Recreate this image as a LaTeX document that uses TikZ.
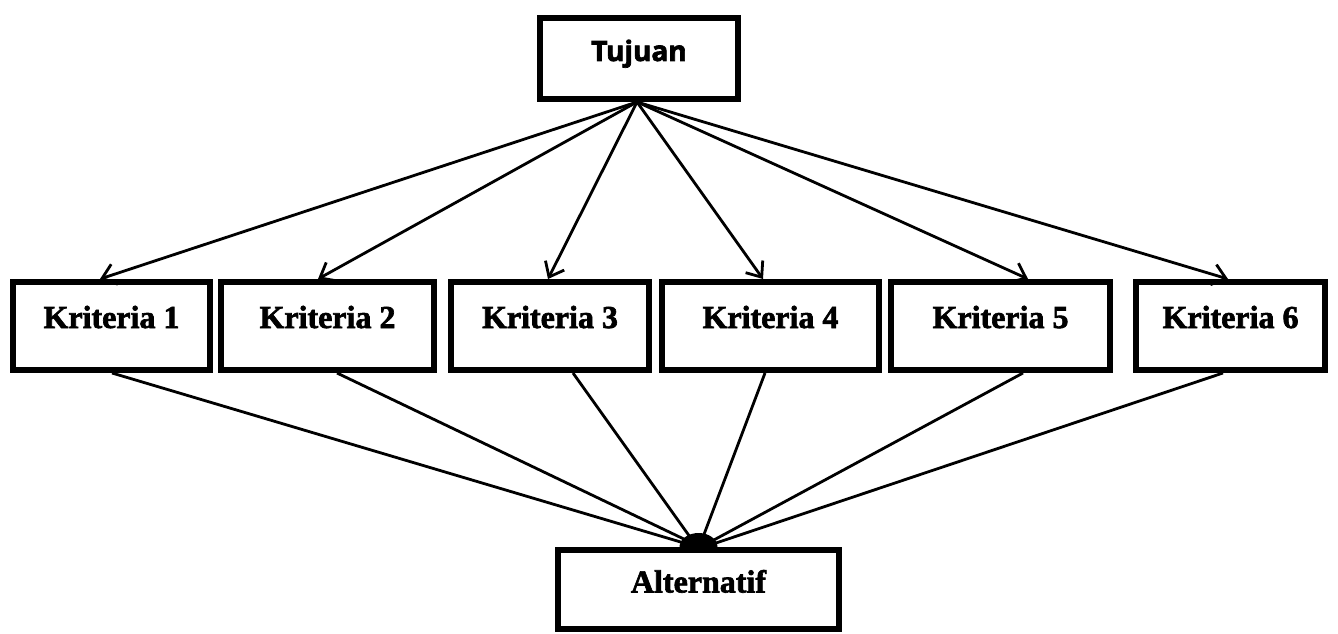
\documentclass[tikz,border=0pt]{standalone}
\usepackage{fontspec}
\setmainfont{Liberation Serif}[BoldFeatures={FakeBold=2}]
\newfontfamily\headfont{Open Sans}[BoldFeatures={FakeBold=2.5}]
\usetikzlibrary{arrows.meta,calc}

\begin{document}
\begin{tikzpicture}[x=1pt,y=-1pt,
  box/.style={draw, line width=6pt, minimum height=88pt, inner sep=0pt,
    font=\bfseries\fontsize{32}{36}\selectfont, text height=22pt, text depth=18pt},
  link/.style={line width=2.8pt},
  arr/.style={link, -{Straight Barb[length=13pt,width=21pt]}}]
\useasboundingbox (0,0) rectangle (1338,634);

% goal, criteria and alternatives
\node[box, minimum width=198pt, minimum height=81pt,
      font=\headfont\bfseries\fontsize{28}{30}\selectfont,
      text height=20pt, text depth=15pt] (tuj) at (639,58.5) {Tujuan};
\node[box, minimum width=197pt] (k1) at (111.5,326) {Kriteria 1};
\node[box, minimum width=213pt] (k2) at (327.5,326) {Kriteria 2};
\node[box, minimum width=198pt] (k3) at (550,326) {Kriteria 3};
\node[box, minimum width=217pt] (k4) at (770.5,326) {Kriteria 4};
\node[box, minimum width=219pt] (k5) at (1000.5,326) {Kriteria 5};
\node[box, minimum width=189pt] (k6) at (1230.5,326) {Kriteria 6};
\node[box, minimum width=281pt, minimum height=79pt, text depth=16pt] (alt) at (698.5,589.5) {Alternatif};

% arrows from the goal to each criterion
\coordinate (src) at ($(tuj.south)+(-2,0)$);
\draw[arr] (src) -- ($(k1.north)+(-11.5,0)$);
\draw[arr] (src) -- ($(k2.north)+(-9.5,0)$);
\draw[arr] (src) -- ($(k3.north)+(-2,0)$);
\draw[arr] (src) -- ($(k4.north)+(-7.5,0)$);
\draw[arr] (src) -- ($(k5.north)+(27.5,0)$);
\draw[arr] (src) -- ($(k6.north)+(-2.5,0)$);

% lines from each criterion down to the alternatives
\draw[link] ($(k1.south)+(0.5,0)$) -- ($(alt.north)+(-14.5,-4)$);
\draw[link] ($(k2.south)+(9.5,0)$) -- ($(alt.north)+(-10.5,-6)$);
\draw[link] ($(k3.south)+(23,0)$) -- ($(alt.north)+(-8.5,-10)$);
\draw[link] ($(k4.south)+(-5.5,0)$) -- ($(alt.north)+(4.5,-10)$);
\draw[link] ($(k5.south)+(22.5,0)$) -- ($(alt.north)+(13.5,-6)$);
\draw[link] ($(k6.south)+(-7.5,0)$) -- ($(alt.north)+(17.5,-4)$);

% joint where the lines meet
\fill ($(alt.north)+(-19,0)$) arc[start angle=180, end angle=360, x radius=19, y radius=14] -- cycle;
\end{tikzpicture}
\end{document}
